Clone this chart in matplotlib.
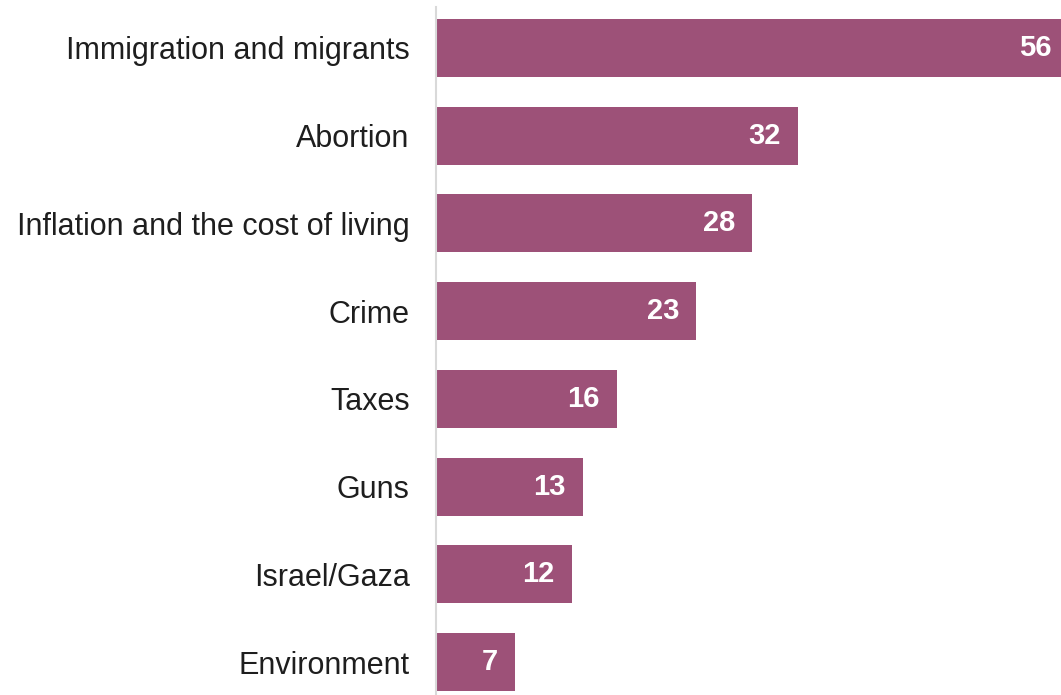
import matplotlib.pyplot as plt

# data
categories = ['Immigration and migrants', 'Abortion', 'Inflation and the cost of living',
              'Crime', 'Taxes', 'Guns', 'Israel/Gaza', 'Environment']
values = [56, 32, 28, 23, 16, 13, 12, 7]

bar_color = '#9d5178'

plt.rcParams['font.family'] = ['Liberation Sans', 'DejaVu Sans']

fig = plt.figure(figsize=(10.61, 6.95), dpi=100)
ax = fig.add_axes([436 / 1061, 0, 1 - 436 / 1061, 1])

y = list(range(len(categories)))
ax.barh(y, values, height=0.66, color=bar_color, zorder=2)

for yi, v in zip(y, values):
    ax.text(v - 1.5, yi, str(v), ha='right', va='center', color='white',
            fontsize=21, fontweight='bold', zorder=3)

ax.set_yticks(y)
ax.set_yticklabels(categories, fontsize=22, color='#1e1e1e')
ax.tick_params(axis='y', length=0, pad=19)
ax.set_xticks([])

ax.set_xlim(0, 55.3)
ax.set_ylim(7.376, -0.547)

for s in ['top', 'right', 'bottom']:
    ax.spines[s].set_visible(False)
ax.spines['left'].set_color('#d9d9d9')
ax.spines['left'].set_linewidth(1.5)
ax.spines['left'].set_bounds(-0.47, 7.376)

fig.savefig('out.png', dpi=100)
